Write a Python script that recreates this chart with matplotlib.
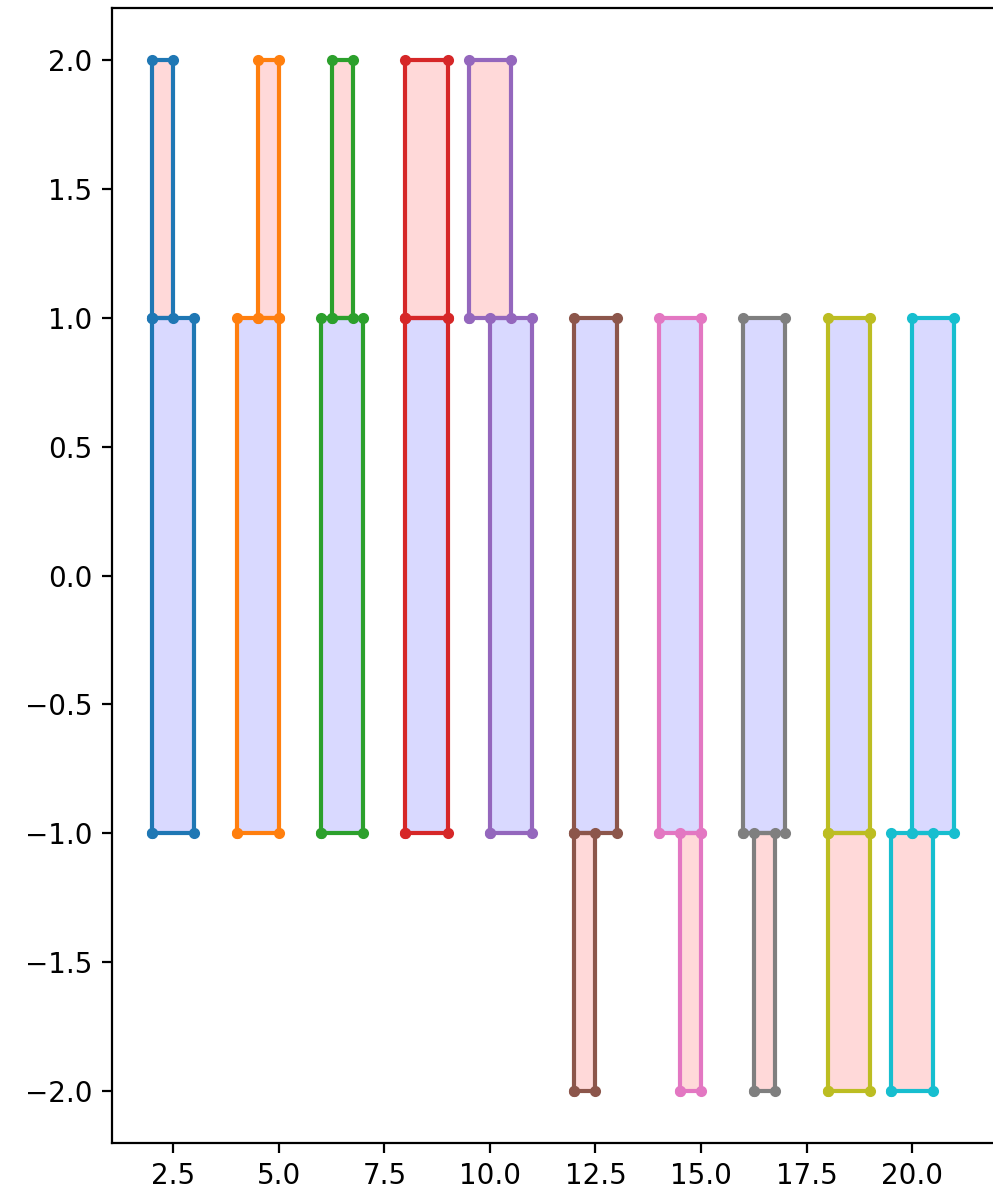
import numpy as np
import matplotlib
matplotlib.use("Agg")
import matplotlib.pyplot as plt

# blue boxes span y -1..1, red boxes sit above (first five) or below (last five)
blue_left = [2, 4, 6, 8, 10, 12, 14, 16, 18, 20]
blue_right = [3, 5, 7, 9, 11, 13, 15, 17, 19, 21]
red_left = [2, 4.5, 6.25, 8, 9.5, 12, 14.5, 16.25, 18, 19.5]
red_right = [2.5, 5, 6.75, 9, 10.5, 12.5, 15, 16.75, 19, 20.5]
red_bottom = [1, 1, 1, 1, 1, -2, -2, -2, -2, -2]
red_top = [2, 2, 2, 2, 2, -1, -1, -1, -1, -1]
blue_bottom = -1
blue_top = 1

colors = plt.rcParams["axes.prop_cycle"].by_key()["color"]


def box(x0, x1, y0, y1):
    xs = [x0, x1, x1, x0, x0]
    ys = [y0, y0, y1, y1, y0]
    return xs, ys


W, H, DPI = 993, 1188, 200
fig = plt.figure(figsize=(W / DPI, H / DPI), dpi=DPI)
left, right = 112 / W, 994.4 / W
bottom, top = (H - 1142.6) / H, (H - 8.45) / H
ax = fig.add_axes([left, bottom, right - left, top - bottom])

for i in range(len(blue_left)):
    c = colors[i % len(colors)]
    bx, by = box(blue_left[i], blue_right[i], blue_bottom, blue_top)
    rx, ry = box(red_left[i], red_right[i], red_bottom[i], red_top[i])
    ax.plot(bx, by, ".-", color=c)
    ax.plot(rx, ry, ".-", color=c)
    ax.fill(bx, by, color="blue", alpha=0.15, lw=0)
    ax.fill(rx, ry, color="red", alpha=0.15, lw=0)

ax.set_xlim(1.05, 21.95)
ax.set_ylim(-2.2, 2.2)
ax.set_xticks([2.5, 5.0, 7.5, 10.0, 12.5, 15.0, 17.5, 20.0])
ax.set_yticks(np.arange(-2.0, 2.01, 0.5))

fig.savefig("out.png", dpi=DPI)
